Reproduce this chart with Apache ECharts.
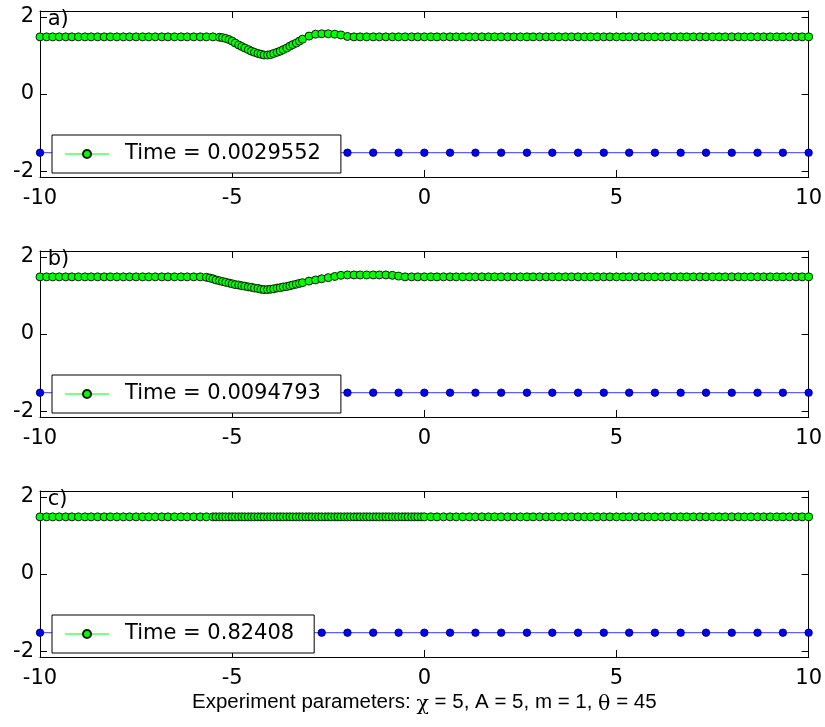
<!DOCTYPE html>
<html><head><meta charset="utf-8">
<script src="https://cdn.jsdelivr.net/npm/echarts@6/dist/echarts.min.js"></script>
<style>html,body{margin:0;padding:0;background:#fff}#c{width:825px;height:727px}</style>
</head><body><div id="c"></div>
<script>
// shared x grid of the green curve
const gx = [-10,-9.83,-9.67,-9.5,-9.33,-9.17,-9,-8.83,-8.67,-8.5,-8.33,-8.17,-8,-7.83,-7.67,-7.5,-7.33,-7.17,-7,-6.83,-6.67,-6.5,-6.33,-6.17,-6,-5.83,-5.67,-5.5,-5.33,-5.17,-5,-4.83,-4.67,-4.5,-4.33,-4.17,-4,-3.83,-3.67,-3.5,-3.33,-3.17,-3,-2.83,-2.67,-2.5,-2.33,-2.17,-2,-1.83,-1.67,-1.5,-1.33,-1.17,-1,-0.83,-0.67,-0.5,-0.33,-0.17,0,0.17,0.33,0.5,0.67,0.83,1,1.17,1.33,1.5,1.67,1.83,2,2.17,2.33,2.5,2.67,2.83,3,3.17,3.33,3.5,3.67,3.83,4,4.17,4.33,4.5,4.67,4.83,5,5.17,5.33,5.5,5.67,5.83,6,6.17,6.33,6.5,6.67,6.83,7,7.17,7.33,7.5,7.67,7.83,8,8.17,8.33,8.5,8.67,8.83,9,9.17,9.33,9.5,9.67,9.83,10];
// panel a) green values on the grid
const gyA = [1.48,1.48,1.48,1.48,1.48,1.48,1.48,1.48,1.48,1.48,
1.48,1.48,1.48,1.48,1.48,1.48,1.48,1.48,1.48,1.48,
1.48,1.48,1.48,1.48,1.48,1.48,1.48,1.48,
1.47,1.44,1.37,1.27,1.19,1.11,1.05,1.01,1.02,1.08,1.15,1.24,1.32,1.42,1.50,1.55,1.56,1.56,1.55,1.53,1.49,
1.48,1.48,1.48,1.48,1.48,1.48,1.48,1.48,1.48,1.48,
1.48,1.48,1.48,1.48,1.48,1.48,1.48,1.48,1.48,1.48,
1.48,1.48,1.48,1.48,1.48,1.48,1.48,1.48,1.48,1.48,
1.48,1.48,1.48,1.48,1.48,1.48,1.48,1.48,1.48,1.48,
1.48,1.48,1.48,1.48,1.48,1.48,1.48,1.48,1.48,1.48,
1.48,1.48,1.48,1.48,1.48,1.48,1.48,1.48,1.48,1.48,
1.48,1.48,1.48,1.48,1.48,1.48,1.48,1.48,1.48,1.48,
1.48,1.48];
// panel a) extra (clustered) points
const exA = [-5.25,-5.08,-4.92,-4.75,-4.58,-4.42,-4.25,-4.08,-3.92,-3.75,-3.58,-3.42,-3.25];
const eyA = [1.46,1.41,1.32,1.23,1.15,1.08,1.03,1.01,1.05,1.11,1.19,1.28,1.37];
// panel b)
const gyB = [1.48,1.48,1.48,1.48,1.48,1.48,1.48,1.48,1.48,1.48,
1.48,1.48,1.48,1.48,1.48,1.48,1.48,1.48,1.48,1.48,
1.48,1.48,1.48,1.48,1.48,1.48,
1.47,1.43,1.38,1.34,1.30,1.27,1.24,1.21,1.18,1.15,1.16,1.19,1.22,1.25,1.29,1.33,1.37,1.40,1.43,1.46,1.49,1.52,1.53,
1.53,1.53,1.53,1.53,1.53,1.53,1.52,1.50,
1.48,1.48,1.48,1.48,1.48,1.48,1.48,1.48,1.48,1.48,
1.48,1.48,1.48,1.48,1.48,1.48,1.48,1.48,1.48,1.48,
1.48,1.48,1.48,1.48,1.48,1.48,1.48,1.48,1.48,1.48,
1.48,1.48,1.48,1.48,1.48,1.48,1.48,1.48,1.48,1.48,
1.48,1.48,1.48,1.48,1.48,1.48,1.48,1.48,1.48,1.48,
1.48,1.48,1.48,1.48,1.48,1.48,1.48,1.48,1.48,1.48,
1.48,1.48,1.48,1.48];
const exB = [-5.58,-5.42,-5.25,-5.08,-4.92,-4.75,-4.58,-4.42,-4.25,-4.08,-3.92,-3.75,-3.58,-3.42,-3.25];
const eyB = [1.45,1.40,1.36,1.32,1.28,1.25,1.22,1.19,1.16,1.15,1.17,1.20,1.23,1.27,1.31];
// panel c)
const gyC = [1.48,1.48,1.48,1.48,1.48,1.48,1.48,1.48,1.48,1.48,
1.48,1.48,1.48,1.48,1.48,1.48,1.48,1.48,1.48,1.48,
1.48,1.48,1.48,1.48,1.48,1.48,1.48,1.48,1.48,1.48,
1.48,1.48,1.48,1.48,1.48,1.48,1.48,1.48,1.48,1.48,
1.48,1.48,1.48,1.48,1.48,1.48,1.48,1.48,1.48,1.48,
1.48,1.48,1.48,1.48,1.48,1.48,1.48,1.48,1.48,1.48,
1.48,1.48,1.48,1.48,1.48,1.48,1.48,1.48,1.48,1.48,
1.48,1.48,1.48,1.48,1.48,1.48,1.48,1.48,1.48,1.48,
1.48,1.48,1.48,1.48,1.48,1.48,1.48,1.48,1.48,1.48,
1.48,1.48,1.48,1.48,1.48,1.48,1.48,1.48,1.48,1.48,
1.48,1.48,1.48,1.48,1.48,1.48,1.48,1.48,1.48,1.48,
1.48,1.48,1.48,1.48,1.48,1.48,1.48,1.48,1.48,1.48,
1.48];
const exC = [-5.42,-5.25,-5.08,-4.92,-4.75,-4.58,-4.42,-4.25,-4.08,-3.92,-3.75,-3.58,-3.42,-3.25,-3.08,-2.92,-2.75,-2.58,-2.42,-2.25,-2.08,-1.92,-1.75,-1.58,-1.42,-1.25,-1.08,-0.92,-0.75,-0.58,-0.42,-0.25,-0.08];
const eyC = [1.48,1.48,1.48,1.48,1.48,1.48,1.48,1.48,1.48,1.48,1.48,1.48,1.48,1.48,1.48,1.48,1.48,1.48,1.48,1.48,1.48,1.48,1.48,1.48,1.48,1.48,1.48,1.48,1.48,1.48,1.48,1.48,1.48];
// blue curve (same in all panels)
const bx = [-10,-9.33,-8.67,-8,-7.33,-6.67,-6,-5.33,-4.67,-4,-3.33,-2.67,-2,-1.33,-0.67,0,0.67,1.33,2,2.67,3.33,4,4.67,5.33,6,6.67,7.33,8,8.67,9.33,10];
const by = [-1.52,-1.52,-1.52,-1.52,-1.52,-1.52,-1.52,-1.52,-1.52,-1.52,-1.52,-1.52,-1.52,-1.52,-1.52,-1.52,-1.52,-1.52,-1.52,-1.52,-1.52,-1.52,-1.52,-1.52,-1.52,-1.52,-1.52,-1.52,-1.52,-1.52,-1.52];
const legendNames = ['Time = 0.0029552','Time = 0.0094793','Time = 0.82408'];
const panelLabels = ['a)','b)','c)'];
const panelLabelAt = [-9.8, 1.92];
const xTicks = [-10,-5,0,5,10];
const yTicks = [-2,0,2];
const xLabelParts = ['Experiment parameters: ','χ',' = 5, A = 5, m = 1, ','θ',' = 45'];

const F = 'DejaVu Sans';
const FX = 'Liberation Sans';
const FS = 21;
const gridTops = [11,251,491];
const legendTops = [135,375,615];
const greenSets = [[gyA,exA,eyA],[gyB,exB,eyB],[gyC,exC,eyC]];

function pairs(xs, ys, ex, ey){
  const p = xs.map((x,i)=>[x,ys[i]]).concat(ex.map((x,i)=>[x,ey[i]]));
  p.sort((a,b)=>a[0]-b[0]);
  return p;
}

const grid=[], xAxis=[], yAxis=[], series=[], legend=[];
for(let k=0;k<3;k++){
  grid.push({left:40, top:gridTops[k], width:769, height:166, containLabel:false});
  const axLine = {show:true, onZero:false, lineStyle:{color:'#000', width:1}};
  const xname = k===2 ? {
    name: `{t|${xLabelParts[0]}}{g|${xLabelParts[1]}}{t|${xLabelParts[2]}}{g|${xLabelParts[3]}}{t|${xLabelParts[4]}}`,
    nameLocation:'middle', nameGap:33,
    nameTextStyle:{rich:{t:{fontFamily:FX,fontSize:20.5,color:'#000'}, g:{fontFamily:'DejaVu Serif',fontSize:20.5,color:'#000',padding:[4,0,0,0]}}}
  } : {};
  xAxis.push(Object.assign({gridIndex:k, type:'value', min:-10, max:10, position:'bottom',
    axisLine:axLine,
    axisTick:{show:true, inside:true, length:7, customValues:xTicks, lineStyle:{color:'#000'}},
    axisLabel:{show:true, customValues:xTicks, color:'#000', fontSize:FS, fontFamily:F, margin:11},
    splitLine:{show:false}}, xname));
  xAxis.push({gridIndex:k, type:'value', min:-10, max:10, position:'top',
    axisLine:axLine,
    axisTick:{show:true, inside:true, length:7, customValues:xTicks, lineStyle:{color:'#000'}},
    axisLabel:{show:false}, splitLine:{show:false}});
  yAxis.push({gridIndex:k, type:'value', min:-2.15, max:2.15, position:'left',
    axisLine:axLine,
    axisTick:{show:true, inside:true, length:7, customValues:yTicks, lineStyle:{color:'#000'}},
    axisLabel:{show:true, customValues:yTicks, color:'#000', fontSize:FS, fontFamily:F, margin:6},
    splitLine:{show:false}});
  yAxis.push({gridIndex:k, type:'value', min:-2.15, max:2.15, position:'right',
    axisLine:axLine,
    axisTick:{show:true, inside:true, length:7, customValues:yTicks, lineStyle:{color:'#000'}},
    axisLabel:{show:false}, splitLine:{show:false}});
  const [gy,ex,ey] = greenSets[k];
  series.push({type:'line', name:'blue'+k, xAxisIndex:2*k, yAxisIndex:2*k,
    data: bx.map((x,i)=>[x,by[i]]),
    symbol:'circle', symbolSize:7.5, showSymbol:true,
    itemStyle:{color:'#0000ff', borderColor:'#00004a', borderWidth:0.8},
    lineStyle:{color:'#5f5fff', width:1.2}, z:2});
  series.push({type:'line', name:legendNames[k], xAxisIndex:2*k, yAxisIndex:2*k,
    data: pairs(gx,gy,ex,ey),
    symbol:'circle', symbolSize:8, showSymbol:true,
    itemStyle:{color:'#00ff00', borderColor:'#0a1a0a', borderWidth:1},
    lineStyle:{color:'#80ff80', width:1.5}, z:3});
  const lbl = panelLabels[k];
  series.push({type:'custom', name:'lbl'+k, xAxisIndex:2*k, yAxisIndex:2*k,
    data:[panelLabelAt], silent:true, z:5, clip:false,
    renderItem:(params, api)=>{
      const p = api.coord([api.value(0), api.value(1)]);
      return {type:'text', x:p[0], y:p[1], style:{text:lbl, fill:'#000', fontSize:FS, fontFamily:F, align:'left', verticalAlign:'middle'}};
    }});
  legend.push({data:[legendNames[k]], left:52, top:legendTops[k], orient:'horizontal',
    padding:[7,20,7,12], itemWidth:44, itemHeight:10, itemGap:0,
    backgroundColor:'#fff', borderColor:'#000', borderWidth:1, borderRadius:0,
    selectedMode:false, z:10,
    textStyle:{fontSize:FS, fontFamily:F, color:'#000', lineHeight:24, padding:[0,0,0,11]}});
}

const chart = echarts.init(document.getElementById('c'), null, {renderer:'canvas'});
chart.setOption({animation:false, backgroundColor:'#fff', grid, xAxis, yAxis, series, legend});
</script>
</body></html>
